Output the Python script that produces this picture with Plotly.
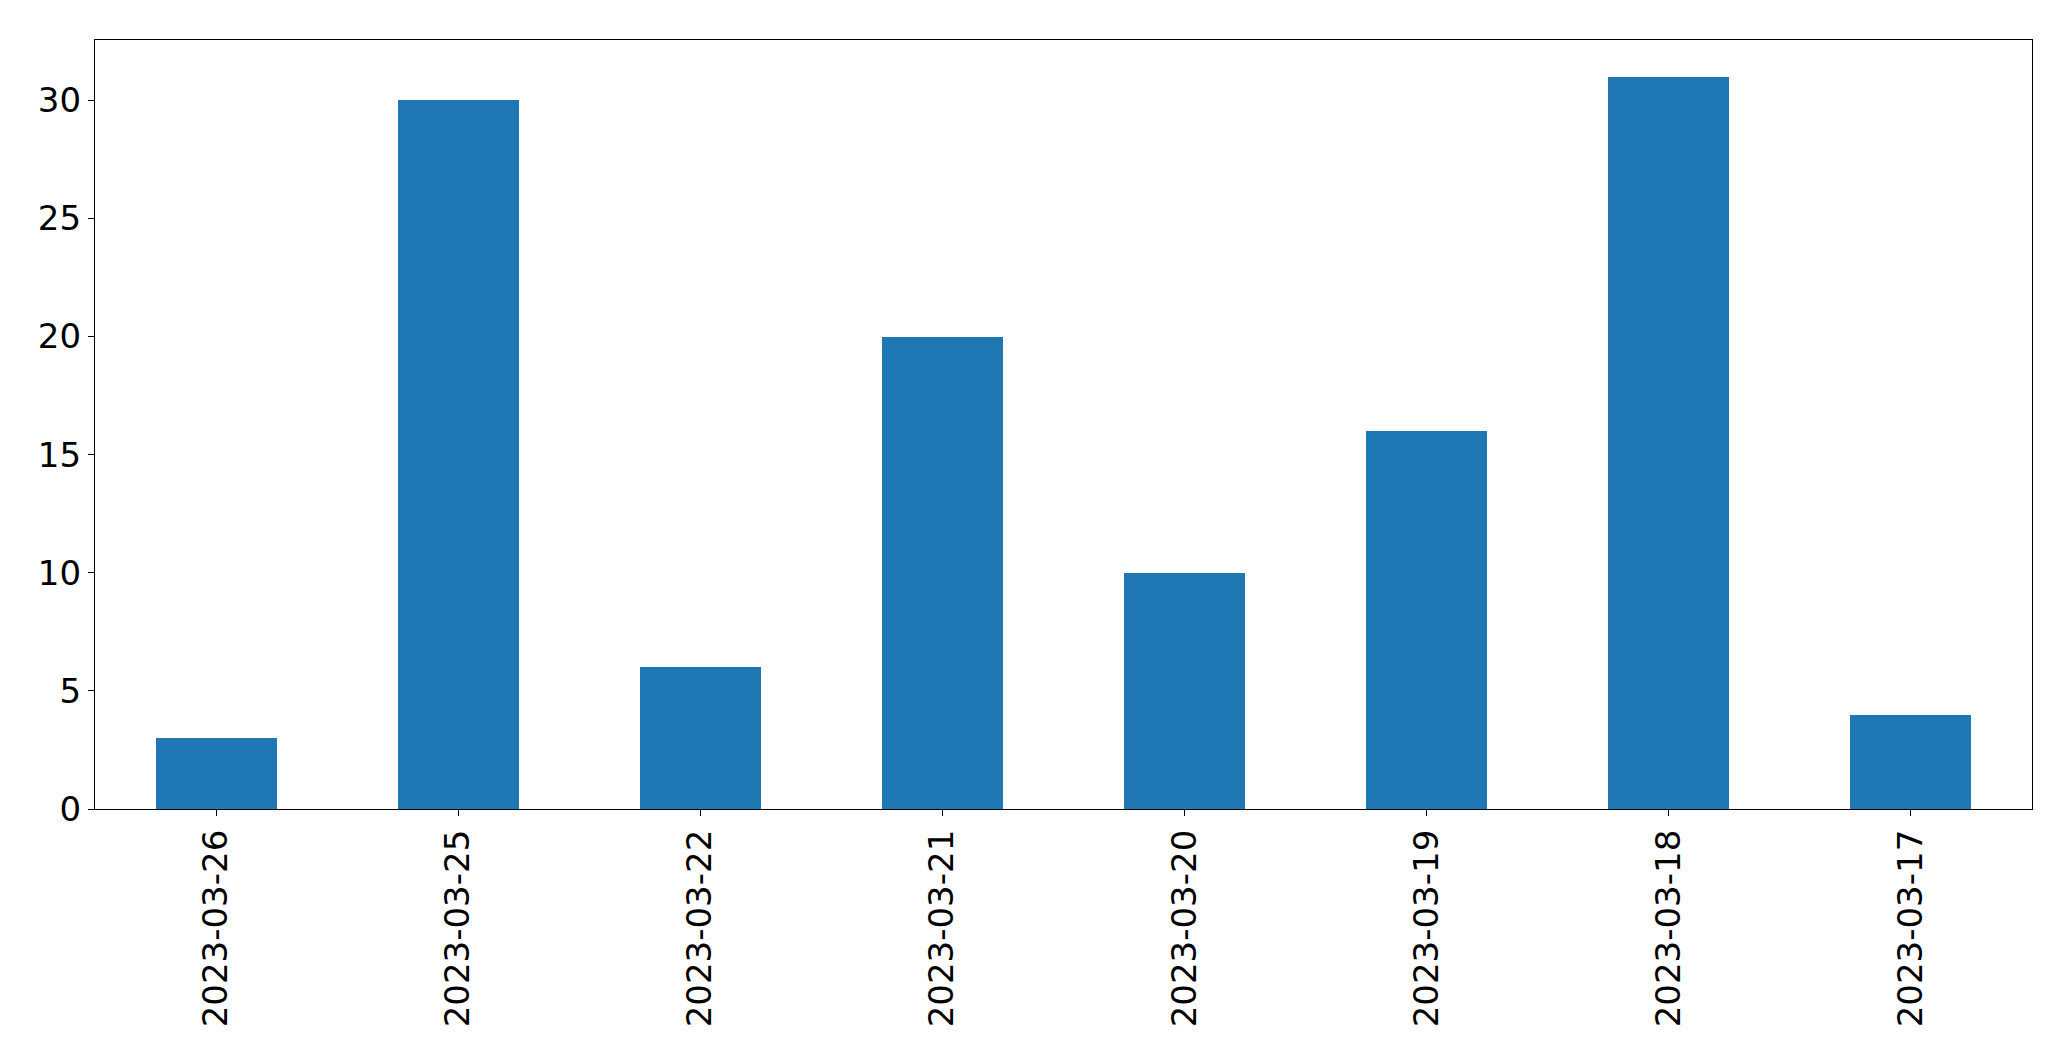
import plotly.graph_objects as go

dates = ["2023-03-26", "2023-03-25", "2023-03-22", "2023-03-21",
         "2023-03-20", "2023-03-19", "2023-03-18", "2023-03-17"]
counts = [3, 30, 6, 20, 10, 16, 31, 4]
y_ticks = [0, 5, 10, 15, 20, 25, 30]

fig = go.Figure(go.Bar(x=list(range(len(dates))), y=counts, width=0.5,
                       marker=dict(color="#1f77b4", line=dict(width=0))))

axis_common = dict(showline=True, linecolor="black", linewidth=1.3, mirror=True,
                   ticks="outside", ticklen=6, tickwidth=1.3, tickcolor="black",
                   showgrid=False, zeroline=False,
                   tickfont=dict(family="DejaVu Sans", size=34, color="black"))

fig.update_xaxes(range=[-0.5, len(dates) - 0.5], tickmode="array",
                 tickvals=list(range(len(dates))), ticktext=dates,
                 tickangle=-90, **axis_common)
fig.update_yaxes(range=[0, max(counts) * 1.05], tickmode="array",
                 tickvals=y_ticks, **axis_common)

fig.update_layout(width=2063, height=1053, plot_bgcolor="white", paper_bgcolor="white",
                  margin=dict(l=87, r=39, t=32, b=252, autoexpand=False),
                  showlegend=False, bargap=0)
fig.write_html("out.html")
